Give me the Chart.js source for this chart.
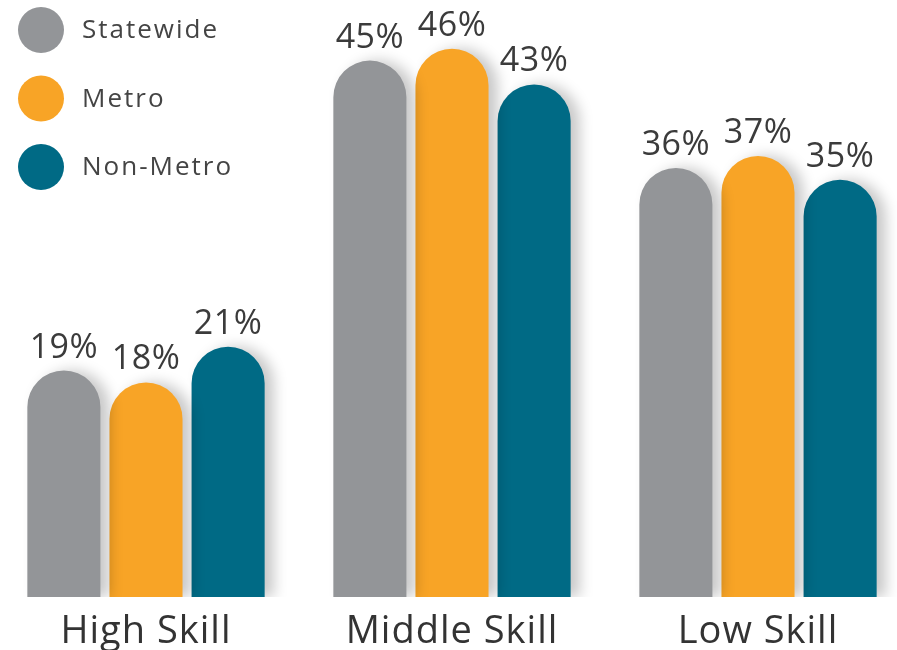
<!DOCTYPE html>
<html>
<head>
<meta charset="utf-8">
<script src="https://cdn.jsdelivr.net/npm/chart.js@4/dist/chart.umd.min.js"></script>
<style>
  html, body { margin: 0; padding: 0; background: #fff; overflow: hidden; }
  #wrap { position: absolute; left: -7px; top: 0; width: 918px; height: 650px; }
</style>
</head>
<body>
<div id="wrap"><canvas id="skillChart"></canvas></div>
<script>
// Share of jobs by skill level
const categories = ['High Skill', 'Middle Skill', 'Low Skill'];
const statewide = [19, 45, 36];
const metro = [18, 46, 37];
const nonMetro = [21, 43, 35];
const seriesNames = ['Statewide', 'Metro', 'Non-Metro'];
const seriesColors = ['#939598', '#F8A426', '#006A85'];

const FONT = '"Open Sans", Lato, sans-serif';

// Slightly open tracking for the axis labels
const tracking = {
    id: 'tracking',
    beforeDraw(chart) {
        chart.ctx.letterSpacing = '1px';
    }
};

// Soft shadow to the right of each bar
const barShadow = {
    id: 'barShadow',
    beforeDatasetsDraw(chart) {
        const ctx = chart.ctx;
        ctx.save();
        ctx.shadowColor = 'rgba(0, 0, 0, 0.22)';
        ctx.shadowBlur = 14;
        ctx.shadowOffsetX = 9;
        ctx.shadowOffsetY = 0;
    },
    afterDatasetsDraw(chart) {
        chart.ctx.restore();
    }
};

// Percent labels above the bars
const valueLabels = {
    id: 'valueLabels',
    afterDatasetsDraw(chart) {
        const ctx = chart.ctx;
        ctx.save();
        ctx.letterSpacing = '0.5px';
        ctx.font = '34px ' + FONT;
        ctx.fillStyle = '#3b3b3b';
        ctx.textAlign = 'center';
        ctx.textBaseline = 'alphabetic';
        chart.data.datasets.forEach((ds, i) => {
            chart.getDatasetMeta(i).data.forEach((bar, j) => {
                ctx.fillText(ds.data[j] + '%', bar.x, bar.y - 13);
            });
        });
        ctx.restore();
    }
};

// Legend with circle markers in the top-left corner
const circleLegend = {
    id: 'circleLegend',
    afterDraw(chart) {
        const ctx = chart.ctx;
        ctx.save();
        ctx.letterSpacing = '2px';
        chart.data.datasets.forEach((ds, i) => {
            const cy = 30 + i * 68.5;
            ctx.beginPath();
            ctx.arc(48, cy, 23, 0, Math.PI * 2);
            ctx.fillStyle = ds.backgroundColor;
            ctx.fill();
            ctx.font = '26px ' + FONT;
            ctx.fillStyle = '#444';
            ctx.textAlign = 'left';
            ctx.textBaseline = 'middle';
            ctx.fillText(ds.label, 89, cy + 1);
        });
        ctx.restore();
    }
};

const values = [statewide, metro, nonMetro];

new Chart(document.getElementById('skillChart'), {
    type: 'bar',
    data: {
        labels: categories,
        datasets: values.map((data, i) => ({
            label: seriesNames[i],
            data: data,
            backgroundColor: seriesColors[i],
            borderRadius: { topLeft: 40, topRight: 40, bottomLeft: 0, bottomRight: 0 },
            borderSkipped: false,
            categoryPercentage: 0.805,
            barPercentage: 0.89
        }))
    },
    options: {
        responsive: true,
        maintainAspectRatio: false,
        animation: false,
        layout: { padding: { top: 1, left: 0, right: 0, bottom: 0 } },
        plugins: {
            legend: { display: false },
            tooltip: { enabled: false }
        },
        scales: {
            x: {
                grid: { display: false },
                border: { display: false },
                ticks: {
                    color: '#333',
                    font: { family: FONT, size: 38 },
                    padding: 4
                },
                afterFit(scale) { scale.height = 53; }
            },
            y: {
                display: false,
                min: 0,
                max: 50
            }
        }
    },
    plugins: [tracking, barShadow, valueLabels, circleLegend]
});
</script>
</body>
</html>
